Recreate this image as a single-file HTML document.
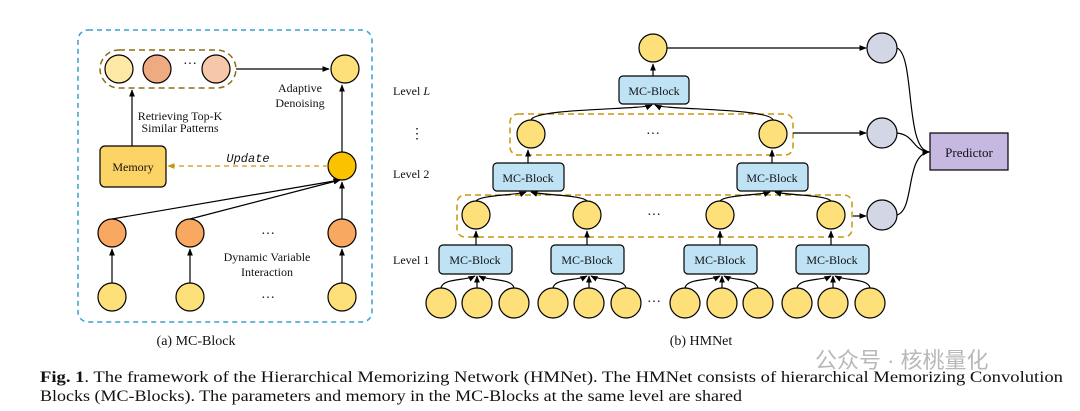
<!DOCTYPE html>
<html><head><meta charset="utf-8"><style>
html,body{margin:0;padding:0;background:#fff;}
svg{display:block;font-family:"Liberation Serif",serif;}
</style></head><body>
<svg width="1080" height="411" viewBox="0 0 1080 411" xmlns="http://www.w3.org/2000/svg">
<defs>
<marker id="a" viewBox="0 0 10 10" refX="9" refY="5" markerWidth="6" markerHeight="6" orient="auto"><path d="M0,1 L10,5 L0,9 z" fill="#000"/></marker>
<marker id="g" viewBox="0 0 10 10" refX="9" refY="5" markerWidth="6" markerHeight="6" orient="auto"><path d="M0,1 L10,5 L0,9 z" fill="#c9960c"/></marker>
</defs>
<g stroke="#000" stroke-width="1.2">
<rect x="78" y="30" width="294" height="292" rx="10" fill="none" stroke="#3a9fd0" stroke-dasharray="5,4" stroke-width="1.5"/>
<rect x="100" y="50" width="136" height="38" rx="19" fill="none" stroke="#8a6d1a" stroke-dasharray="6,4" stroke-width="1.5"/>
<circle cx="119" cy="69" r="14" fill="#fde8a6"/>
<circle cx="157" cy="69" r="14" fill="#eeaa80"/>
<circle cx="216" cy="69" r="14" fill="#f7c7a9"/>
<circle cx="345" cy="69" r="14" fill="#fde07a"/>
<line x1="236" y1="69" x2="329" y2="69" marker-end="url(#a)"/>
<line x1="132" y1="146" x2="132" y2="90" marker-end="url(#a)"/>
<rect x="100" y="146" width="66" height="41" rx="5" fill="#fcd465"/>
<circle cx="342" cy="166" r="14" fill="#fbc200"/>
<line x1="342" y1="152" x2="342" y2="85" marker-end="url(#a)"/>
<line x1="328" y1="166" x2="168" y2="166" stroke="#c9960c" stroke-dasharray="5,4" marker-end="url(#g)"/>
<circle cx="112" cy="233" r="14" fill="#f8a860"/>
<circle cx="190" cy="233" r="14" fill="#f8a860"/>
<circle cx="342" cy="233" r="14" fill="#f8a860"/>
<line x1="112" y1="219" x2="340" y2="180" marker-end="url(#a)"/>
<line x1="190" y1="219" x2="340" y2="180" marker-end="url(#a)"/>
<line x1="342" y1="219" x2="342" y2="182" marker-end="url(#a)"/>
<circle cx="112" cy="297" r="14" fill="#fde07a"/>
<circle cx="190" cy="297" r="14" fill="#fde07a"/>
<circle cx="342" cy="297" r="14" fill="#fde07a"/>
<line x1="112" y1="283" x2="112" y2="249" marker-end="url(#a)"/>
<line x1="190" y1="283" x2="190" y2="249" marker-end="url(#a)"/>
<line x1="342" y1="283" x2="342" y2="249" marker-end="url(#a)"/>

<circle cx="653" cy="48" r="14" fill="#fde07a"/>
<line x1="667" y1="48" x2="866" y2="48" marker-end="url(#a)"/>
<circle cx="882" cy="48" r="15" fill="#d3d6e4"/>
<circle cx="882" cy="133" r="15" fill="#d3d6e4"/>
<circle cx="882" cy="215" r="15" fill="#d3d6e4"/>
<rect x="930" y="133" width="78" height="37" fill="#c6b8e0"/>
<path d="M897,48 C915,55 905,150 929,152" fill="none" marker-end="url(#a)"/>
<path d="M897,133 C915,135 912,150 929,152" fill="none" marker-end="url(#a)"/>
<path d="M897,215 C915,210 905,155 929,152" fill="none" marker-end="url(#a)"/>
<line x1="653" y1="76" x2="653" y2="64" marker-end="url(#a)"/>
<rect x="619" y="76" width="70" height="28" rx="4" fill="#bfe3f5"/>
<rect x="510" y="114" width="283" height="41" rx="8" fill="none" stroke="#c9960c" stroke-dasharray="6,4" stroke-width="1.5"/>
<circle cx="531" cy="134" r="14" fill="#fde07a"/>
<circle cx="773" cy="134" r="14" fill="#fde07a"/>
<path d="M531,120 C535,108 640,110 652,105" fill="none" marker-end="url(#a)"/>
<path d="M773,120 C769,108 665,110 655,105" fill="none" marker-end="url(#a)"/>
<line x1="853" y1="216" x2="866" y2="216" marker-end="url(#a)"/>
<line x1="793" y1="133" x2="866" y2="133" marker-end="url(#a)"/>
<line x1="528" y1="163" x2="528" y2="150" marker-end="url(#a)"/>
<line x1="772" y1="163" x2="772" y2="150" marker-end="url(#a)"/>
<rect x="493" y="163" width="71" height="28" rx="4" fill="#bfe3f5"/>
<rect x="737" y="163" width="71" height="28" rx="4" fill="#bfe3f5"/>
<rect x="457" y="195" width="395" height="42" rx="8" fill="none" stroke="#c9960c" stroke-dasharray="6,4" stroke-width="1.5"/>
<circle cx="476" cy="215" r="14" fill="#fde07a"/>
<circle cx="587" cy="215" r="14" fill="#fde07a"/>
<circle cx="720" cy="215" r="14" fill="#fde07a"/>
<circle cx="831" cy="215" r="14" fill="#fde07a"/>
<path d="M476,201 C480,195 518,195 526,192" fill="none" marker-end="url(#a)"/>
<path d="M587,201 C583,195 540,195 531,192" fill="none" marker-end="url(#a)"/>
<path d="M720,201 C724,195 762,195 770,192" fill="none" marker-end="url(#a)"/>
<path d="M831,201 C827,195 784,195 775,192" fill="none" marker-end="url(#a)"/>
<g fill="#bfe3f5">
<rect x="439" y="245" width="73" height="29" rx="4"/>
<rect x="551" y="245" width="73" height="29" rx="4"/>
<rect x="684" y="245" width="73" height="29" rx="4"/>
<rect x="796" y="245" width="73" height="29" rx="4"/>
</g>
<line x1="476" y1="245" x2="476" y2="231" marker-end="url(#a)"/>
<line x1="587" y1="245" x2="587" y2="231" marker-end="url(#a)"/>
<line x1="720" y1="245" x2="720" y2="231" marker-end="url(#a)"/>
<line x1="831" y1="245" x2="831" y2="231" marker-end="url(#a)"/>
<g fill="#fde07a">
<circle cx="441" cy="303" r="15"/><circle cx="477" cy="303" r="15"/><circle cx="514" cy="303" r="15"/>
<circle cx="553" cy="303" r="15"/><circle cx="589" cy="303" r="15"/><circle cx="626" cy="303" r="15"/>
<circle cx="685" cy="303" r="15"/><circle cx="722" cy="303" r="15"/><circle cx="758" cy="303" r="15"/>
<circle cx="797" cy="303" r="15"/><circle cx="833" cy="303" r="15"/><circle cx="870" cy="303" r="15"/>
</g>
<g fill="none">
<path d="M441,288 C443,278 465,281 475,276" marker-end="url(#a)"/><line x1="477" y1="288" x2="477" y2="276" marker-end="url(#a)"/><path d="M514,288 C512,278 489,281 479,276" marker-end="url(#a)"/>
<path d="M553,288 C555,278 577,281 587,276" marker-end="url(#a)"/><line x1="589" y1="288" x2="589" y2="276" marker-end="url(#a)"/><path d="M626,288 C624,278 601,281 591,276" marker-end="url(#a)"/>
<path d="M685,288 C687,278 710,281 720,276" marker-end="url(#a)"/><line x1="722" y1="288" x2="722" y2="276" marker-end="url(#a)"/><path d="M758,288 C756,278 734,281 724,276" marker-end="url(#a)"/>
<path d="M797,288 C799,278 821,281 831,276" marker-end="url(#a)"/><line x1="833" y1="288" x2="833" y2="276" marker-end="url(#a)"/><path d="M870,288 C868,278 845,281 835,276" marker-end="url(#a)"/>
</g>
</g>
<g font-size="12" fill="#111" text-anchor="middle">
<text x="133" y="171">Memory</text>
<text x="300" y="92">Adaptive</text>
<text x="300" y="107">Denoising</text>
<text x="180" y="120">Retrieving Top-K</text>
<text x="180" y="132">Similar Patterns</text>
<text x="248" y="162" font-family="Liberation Mono,monospace" font-style="italic">Update</text>
<text x="267" y="261">Dynamic Variable</text>
<text x="267" y="276">Interaction</text>
<text x="190" y="68" font-size="14">···</text>
<text x="268" y="238" font-size="14">···</text>
<text x="268" y="302" font-size="14">···</text>
<text x="654" y="95">MC-Block</text>
<text x="528" y="182">MC-Block</text>
<text x="772" y="182">MC-Block</text>
<text x="475" y="264">MC-Block</text>
<text x="587" y="264">MC-Block</text>
<text x="720" y="264">MC-Block</text>
<text x="832" y="264">MC-Block</text>
<text x="969" y="157" font-size="13">Predictor</text>
<text x="653" y="138" font-size="14">···</text>
<text x="654" y="219" font-size="14">···</text>
<text x="654" y="306" font-size="14">···</text>
<text x="196" y="345" font-size="14">(a)  MC-Block</text>
<text x="701" y="345" font-size="14">(b)  HMNet</text>
</g>
<g font-size="12" fill="#111">
<text x="393" y="95">Level <tspan font-style="italic">L</tspan></text>
<text x="410" y="138" font-size="14">⋮</text>
<text x="393" y="178">Level 2</text>
<text x="393" y="264">Level 1</text>
</g>
<text x="815" y="368" font-size="22" fill="#b8b8b8" font-family="'Liberation Sans','Noto Sans CJK SC',sans-serif">公众号 · 核桃量化</text>
<g font-size="16" fill="#111">
<text x="40" y="382" textLength="1023" lengthAdjust="spacingAndGlyphs"><tspan font-weight="bold">Fig. 1</tspan>. The framework of the Hierarchical Memorizing Network (HMNet). The HMNet consists of hierarchical Memorizing Convolution</text>
<text x="40" y="401" textLength="702" lengthAdjust="spacingAndGlyphs">Blocks (MC-Blocks). The parameters and memory in the MC-Blocks at the same level are shared</text>
</g>
</svg>
</body></html>
